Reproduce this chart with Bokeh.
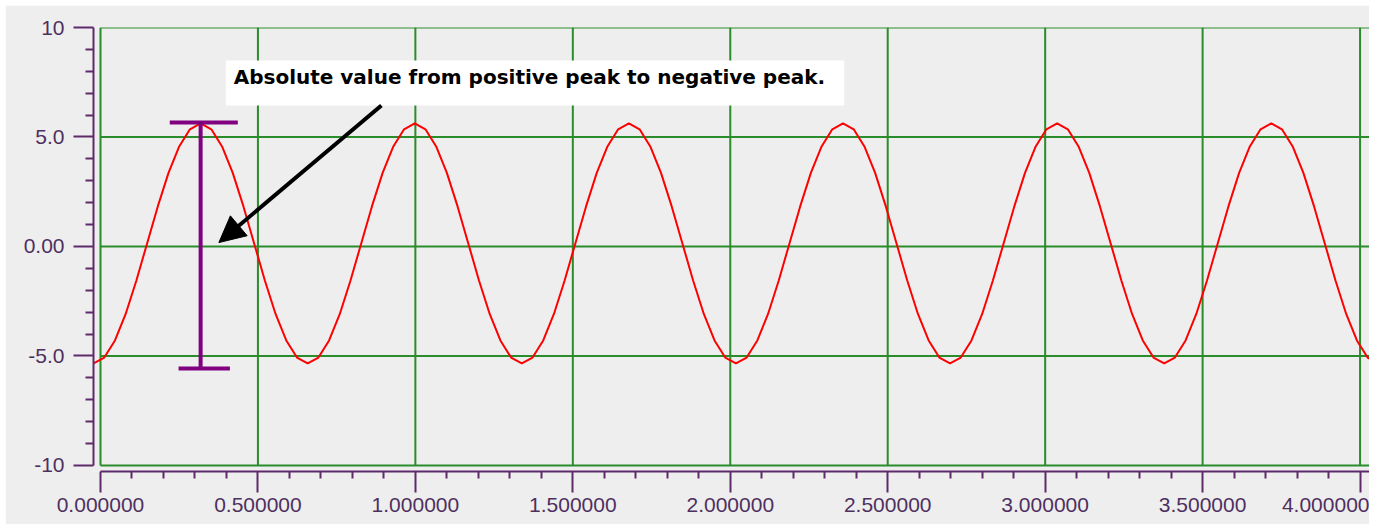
from bokeh.plotting import figure
from bokeh.models import (Range1d, FixedTicker, Arrow, NormalHead, Label,
                          BoxAnnotation)
from bokeh.embed import file_html
from bokeh.resources import INLINE

# ---------------- data ----------------
time_s = [
    -0.022, 0.012, 0.046, 0.080, 0.114, 0.148, 0.182, 0.216, 0.250, 0.284,
    0.318, 0.352, 0.386, 0.420, 0.454, 0.488, 0.522, 0.556, 0.590, 0.624,
    0.658, 0.692, 0.726, 0.760, 0.794, 0.828, 0.862, 0.896, 0.930, 0.964,
    0.998, 1.032, 1.066, 1.100, 1.134, 1.168, 1.202, 1.236, 1.270, 1.304,
    1.338, 1.372, 1.406, 1.440, 1.474, 1.508, 1.542, 1.576, 1.610, 1.644,
    1.678, 1.712, 1.746, 1.780, 1.814, 1.848, 1.882, 1.916, 1.950, 1.984,
    2.018, 2.052, 2.086, 2.120, 2.154, 2.188, 2.222, 2.256, 2.290, 2.324,
    2.358, 2.392, 2.426, 2.460, 2.494, 2.528, 2.562, 2.596, 2.630, 2.664,
    2.698, 2.732, 2.766, 2.800, 2.834, 2.868, 2.902, 2.936, 2.970, 3.004,
    3.038, 3.072, 3.106, 3.140, 3.174, 3.208, 3.242, 3.276, 3.310, 3.344,
    3.378, 3.412, 3.446, 3.480, 3.514, 3.548, 3.582, 3.616, 3.650, 3.684,
    3.718, 3.752, 3.786, 3.820, 3.854, 3.888, 3.922, 3.956, 3.990, 4.024,
    4.058,
]
signal = [
    -5.34, -5.07, -4.29, -3.08, -1.55, 0.14, 1.83, 3.36, 4.57, 5.35,
    5.62, 5.35, 4.57, 3.36, 1.83, 0.14, -1.55, -3.08, -4.29, -5.07,
    -5.34, -5.07, -4.29, -3.08, -1.55, 0.14, 1.83, 3.36, 4.57, 5.35,
    5.62, 5.35, 4.57, 3.36, 1.83, 0.14, -1.55, -3.08, -4.29, -5.07,
    -5.34, -5.07, -4.29, -3.08, -1.55, 0.14, 1.83, 3.36, 4.57, 5.35,
    5.62, 5.35, 4.57, 3.36, 1.83, 0.14, -1.55, -3.08, -4.29, -5.07,
    -5.34, -5.07, -4.29, -3.08, -1.55, 0.14, 1.83, 3.36, 4.57, 5.35,
    5.62, 5.35, 4.57, 3.36, 1.83, 0.14, -1.55, -3.08, -4.29, -5.07,
    -5.34, -5.07, -4.29, -3.08, -1.55, 0.14, 1.83, 3.36, 4.57, 5.35,
    5.62, 5.35, 4.57, 3.36, 1.83, 0.14, -1.55, -3.08, -4.29, -5.07,
    -5.34, -5.07, -4.29, -3.08, -1.55, 0.14, 1.83, 3.36, 4.57, 5.35,
    5.62, 5.35, 4.57, 3.36, 1.83, 0.14, -1.55, -3.08, -4.29, -5.07,
    -5.34,
]

x_ticks = [0.0, 0.5, 1.0, 1.5, 2.0, 2.5, 3.0, 3.5, 4.0]
x_labels = ["0.000000", "0.500000", "1.000000", "1.500000", "2.000000",
            "2.500000", "3.000000", "3.500000", "4.000000"]
x_minor = [0.1, 0.2, 0.3, 0.4, 0.6, 0.7, 0.8, 0.9, 1.1, 1.2, 1.3, 1.4,
           1.6, 1.7, 1.8, 1.9, 2.1, 2.2, 2.3, 2.4, 2.6, 2.7, 2.8, 2.9,
           3.1, 3.2, 3.3, 3.4, 3.6, 3.7, 3.8, 3.9]
y_ticks = [-10, -5, 0, 5, 10]
y_labels = ["-10", "-5.0", "0.00", "5.0", "10"]
y_minor = [-9, -8, -7, -6, -4, -3, -2, -1, 1, 2, 3, 4, 6, 7, 8, 9]

# peak-to-peak marker (x of peak, positive and negative peak levels)
bar_x = [0.318]
bar_top = [5.66]
bar_bottom = [-5.57]
top_cap = [0.220, 0.436]
bottom_cap = [0.248, 0.411]

# annotation
note_text = "Absolute value from positive peak to negative peak."
note_box = dict(left=0.398, right=2.362, top=8.49, bottom=6.44)
note_pos = (0.423, 7.72)
arrow_start = (0.892, 6.44)
arrow_end = (0.376, 0.18)

# ---------------- styling ----------------
BG = "#EEEEEE"
GREEN = "#2A8C2A"
PURPLE_AXIS = "#5E2A6A"
LABEL_COLOR = "#4E3060"
X_START = -0.0222
X_END = 4.030

p = figure(width=1364, height=519, output_backend="svg", toolbar_location=None,
           x_range=Range1d(X_START, X_END), y_range=Range1d(-10.274, 10),
           min_border_left=88, min_border_right=0, min_border_top=22,
           min_border_bottom=53)
p.margin = (5, 0, 0, 5)
p.background_fill_color = BG
p.border_fill_color = BG
p.outline_line_color = None
p.xgrid.visible = False
p.ygrid.visible = False

# green grid drawn from the tick arrays
ymin, ymax = min(y_ticks), max(y_ticks)
p.segment(x0=x_ticks, y0=[ymin] * len(x_ticks), x1=x_ticks, y1=[ymax] * len(x_ticks),
          line_color=GREEN, line_width=2)
p.segment(x0=[0.0] * len(y_ticks), y0=y_ticks, x1=[X_END] * len(y_ticks), y1=y_ticks,
          line_color=GREEN, line_width=2)

# signal
p.line(time_s, signal, line_color="#FF0000", line_width=2)

# peak-to-peak bar
p.segment(x0=bar_x, y0=bar_bottom, x1=bar_x, y1=bar_top, line_color="#800080", line_width=4)
p.segment(x0=[top_cap[0]], y0=bar_top, x1=[top_cap[1]], y1=bar_top,
          line_color="#800080", line_width=4)
p.segment(x0=[bottom_cap[0]], y0=bar_bottom, x1=[bottom_cap[1]], y1=bar_bottom,
          line_color="#800080", line_width=4)

# annotation box + text + arrow
p.add_layout(BoxAnnotation(left=note_box["left"], right=note_box["right"],
                           top=note_box["top"], bottom=note_box["bottom"],
                           fill_color="white", fill_alpha=1.0, line_color=None))
p.add_layout(Label(x=note_pos[0], y=note_pos[1], text=note_text,
                   text_font="DejaVu Sans", text_font_style="bold",
                   text_font_size="20px", text_color="black",
                   text_baseline="middle", text_align="left"))
p.add_layout(Arrow(x_start=arrow_start[0], y_start=arrow_start[1],
                   x_end=arrow_end[0], y_end=arrow_end[1],
                   line_color="black", line_width=4,
                   end=NormalHead(size=26, fill_color="black", line_color="black")))

# axes
for ax in (p.xaxis[0], p.yaxis[0]):
    ax.axis_line_color = PURPLE_AXIS
    ax.axis_line_width = 2
    ax.major_tick_line_color = PURPLE_AXIS
    ax.major_tick_line_width = 2
    ax.minor_tick_line_color = PURPLE_AXIS
    ax.minor_tick_line_width = 2
    ax.major_tick_in = 0
    ax.minor_tick_in = 0
    ax.major_label_text_font = "Liberation Sans"
    ax.major_label_text_font_size = "21px"
    ax.major_label_text_color = LABEL_COLOR

xa = p.xaxis[0]
xa.ticker = FixedTicker(ticks=x_ticks, minor_ticks=x_minor)
xa.major_label_overrides = {t: l for t, l in zip(x_ticks, x_labels)}
xa.bounds = (0.0, X_END)
xa.major_tick_out = 21
xa.minor_tick_out = 7
xa.major_label_standoff = 5

ya = p.yaxis[0]
ya.ticker = FixedTicker(ticks=y_ticks, minor_ticks=y_minor)
ya.major_label_overrides = {t: l for t, l in zip(y_ticks, y_labels)}
ya.bounds = (ymin, ymax)
ya.major_tick_out = 20
ya.minor_tick_out = 8
ya.major_label_standoff = 9

open("out.html", "w").write(file_html(p, INLINE))
